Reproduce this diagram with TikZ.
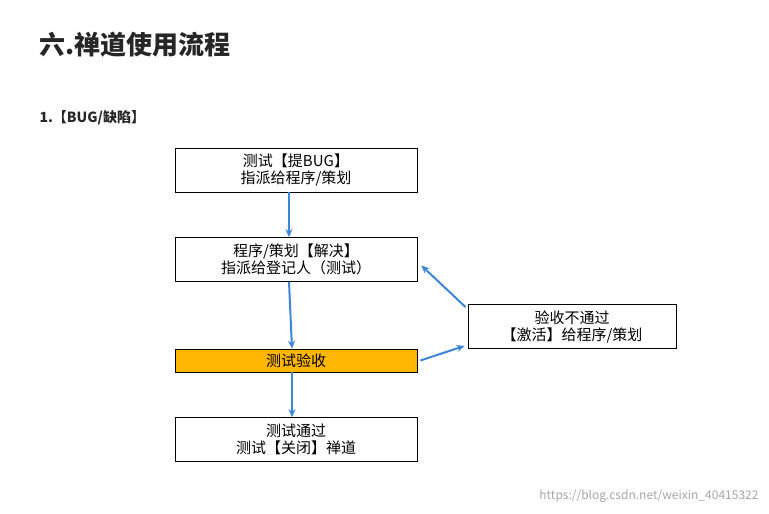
\documentclass[tikz,border=0pt]{standalone}
\usepackage{fontspec}
\setmainfont{Noto Sans CJK SC}
\usetikzlibrary{arrows.meta}
\definecolor{flowblue}{HTML}{3D85D8}
\definecolor{checkorange}{HTML}{FFB703}
\tikzset{
    stepbox/.style={draw,thick,minimum width=242pt,minimum height=44pt,align=center,font=\fontsize{15}{17}\selectfont,inner sep=1pt},
    flow/.style={-{Stealth[length=8pt,width=7pt]},line width=2pt,flowblue}
}
\begin{document}
\begin{tikzpicture}[x=1pt,y=-1pt]
    \useasboundingbox (0,0) rectangle (769,514);

    \node[anchor=west,font=\bfseries\fontsize{26}{28}\selectfont,text=black!85] (title) at (36,45) {六.禅道使用流程};
    \node[anchor=west,font=\bfseries\fontsize{14}{16}\selectfont,text=black!85] (sub) at (36,118) {1.【BUG/缺陷】};

    \node[stepbox] (report) at (296,170) {测试【提BUG】\\指派给程序/策划};
    \node[stepbox] (solve) at (296,259.5) {程序/策划【解决】\\指派给登记人（测试）};
    \node[stepbox,minimum height=23pt,fill=checkorange] (check) at (296,360.5) {测试验收};
    \node[stepbox] (close) at (296,439.5) {测试通过\\测试【关闭】禅道};
    \node[stepbox,minimum width=208pt] (reopen) at (572,326.5) {验收不通过\\【激活】给程序/策划};

    \draw[flow] ([xshift=-7pt]report.south) -- ([xshift=-7pt]solve.north);
    \draw[flow] ([xshift=-7pt]solve.south) -- ([xshift=-4pt]check.north);
    \draw[flow] ([xshift=-4pt]check.south) -- ([xshift=-4pt]close.north);
    \draw[flow] ([xshift=3pt]check.east) -- ([xshift=-3pt,yshift=3pt]reopen.south west);
    \draw[flow] ([xshift=-2pt,yshift=-3pt]reopen.north west) -- ([xshift=4pt,yshift=-6pt]solve.east);

    \node[anchor=east,text=gray!70,font=\fontsize{12}{14}\selectfont] (mark) at (762,496) {https://blog.csdn.net/weixin\_40415322};
\end{tikzpicture}
\end{document}
